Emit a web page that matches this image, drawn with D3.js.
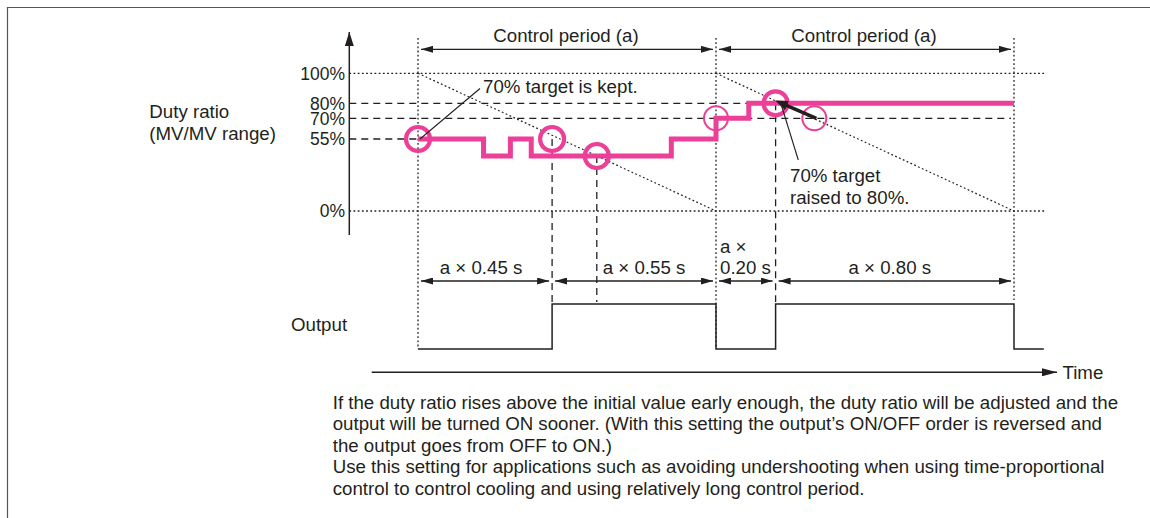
<!DOCTYPE html>
<html><head><meta charset="utf-8">
<script src="https://cdn.jsdelivr.net/npm/d3@7"></script>
<style>
body{margin:0;background:#fff}
svg{display:block}
text{font-family:"Liberation Sans",Arial,Helvetica,sans-serif;fill:#231f20}
</style>
</head><body>
<svg id="c" width="1150" height="518"></svg>
<script>
// ---- data ----
const dutyTicks = [100, 80, 70, 55, 0];
const dutyTickLabels = ["100%", "80%", "70%", "55%", "0%"];
const dutyTimes = [0, 0.22, 0.31, 0.38, 0.85, 1.0, 1.11, 2.0];
const dutyValues = [55, 42, 55, 42, 55, 70, 80, 80];
const outputTimes = [0, 0.45, 1.0, 1.2, 2.0, 2.1];
const outputValues = [0, 1, 0, 1, 0, 0];
const periods = [[0, 1], [1, 2]];
const periodLabel = "Control period (a)";
const intervals = [[0, 0.45], [0.45, 1], [1, 1.2], [1.2, 2]];
const intervalLabels = [["a \u00d7 0.45 s"], ["a \u00d7 0.55 s"], ["a \u00d7", "0.20 s"], ["a \u00d7 0.80 s"]];
const thickCircleTimes = [0, 0.45, 0.6, 1.2];
const thickCircleValues = [55, 55, 42, 80];
const thinCircleTimes = [1.0, 1.33];
const thinCircleValues = [70, 70];
const paragraph = [
  "If the duty ratio rises above the initial value early enough, the duty ratio will be adjusted and the",
  "output will be turned ON sooner. (With this setting the output\u2019s ON/OFF order is reversed and",
  "the output goes from OFF to ON.)",
  "Use this setting for applications such as avoiding undershooting when using time-proportional",
  "control to control cooling and using relatively long control period."
];

// ---- layout ----
const svg = d3.select("#c");
const INK = "#231f20", PINK = "#ec3f97";
const FS = "18.7px";
const x = d3.scaleLinear().domain([0, 2]).range([418, 1014]);
const y = d3.scaleLinear().domain([0, 55, 70, 80, 100]).range([211, 139, 118.3, 103.3, 73.3]);
const yo = d3.scaleLinear().domain([0, 1]).range([349, 304]);
const tMax = 2.105;
const DOT = "1.8,2.4", DASH = "7,5";

// frame
svg.append("path").attr("d", "M7.5,518V7.5H1150").attr("fill", "none").attr("stroke", "#555").attr("stroke-width", 1.2);

// markers
const defs = svg.append("defs");
function marker(id, len, wid, refX) {
  defs.append("marker").attr("id", id).attr("viewBox", `0 0 ${len} ${wid}`)
    .attr("refX", refX).attr("refY", wid / 2).attr("markerWidth", len).attr("markerHeight", wid)
    .attr("markerUnits", "userSpaceOnUse").attr("orient", "auto-start-reverse")
    .append("path").attr("d", `M0,0L${len},${wid / 2}L0,${wid}Z`).attr("fill", INK);
}
marker("dim", 12, 7, 12);
marker("ax", 14, 9, 14);
marker("tx", 15, 8, 15);
marker("thick", 13, 10, 7);

const g = svg.append("g");

// horizontal reference lines
const yAxisX = 349.3;
[100, 0].forEach(v => g.append("line").attr("x1", yAxisX).attr("x2", x(tMax)).attr("y1", y(v)).attr("y2", y(v))
  .attr("stroke", INK).attr("stroke-width", 1.3).attr("stroke-dasharray", DOT));
g.append("line").attr("x1", yAxisX).attr("x2", x(1.11)).attr("y1", y(80)).attr("y2", y(80))
  .attr("stroke", INK).attr("stroke-width", 1.3).attr("stroke-dasharray", DASH);
g.append("line").attr("x1", yAxisX).attr("x2", x(2) - 3).attr("y1", y(70)).attr("y2", y(70))
  .attr("stroke", INK).attr("stroke-width", 1.3).attr("stroke-dasharray", DASH);
g.append("line").attr("x1", yAxisX).attr("x2", x(0)).attr("y1", y(55)).attr("y2", y(55))
  .attr("stroke", INK).attr("stroke-width", 1.3).attr("stroke-dasharray", DASH);

// diagonal ramps
periods.forEach(p => g.append("line").attr("x1", x(p[0])).attr("y1", y(100)).attr("x2", x(p[1])).attr("y2", y(0))
  .attr("stroke", INK).attr("stroke-width", 1.2).attr("stroke-dasharray", DOT));

// vertical period lines (dotted)
[[0, yo(0)], [1, yo(0)], [2, yo(1) - 4]].forEach(d => g.append("line").attr("x1", x(d[0])).attr("x2", x(d[0]))
  .attr("y1", 38).attr("y2", d[1]).attr("stroke", INK).attr("stroke-width", 1.3).attr("stroke-dasharray", DOT));

// vertical dashed lines from circles to output
[[0.45, 55], [0.6, 42], [1.2, 80]].forEach(d => g.append("line").attr("x1", x(d[0])).attr("x2", x(d[0]))
  .attr("y1", y(d[1])).attr("y2", yo(1) - 2).attr("stroke", INK).attr("stroke-width", 1.3).attr("stroke-dasharray", DASH));

// y axis
g.append("line").attr("x1", yAxisX).attr("x2", yAxisX).attr("y1", 235).attr("y2", 32)
  .attr("stroke", INK).attr("stroke-width", 1.5).attr("marker-end", "url(#ax)");
g.selectAll(".tick").data(dutyTicks).join("text").attr("x", 345).attr("y", d => y(d)).attr("dy", "0.36em")
  .attr("text-anchor", "end").style("font-size", "17.5px").text((d, i) => dutyTickLabels[i]);

// duty step line
const dutyData = dutyTimes.map((t, i) => [t, dutyValues[i]]);
g.append("path").attr("d", d3.line().x(d => x(d[0])).y(d => y(d[1])).curve(d3.curveStepAfter)(dutyData))
  .attr("fill", "none").attr("stroke", PINK).attr("stroke-width", 5);

// circles
thickCircleTimes.forEach((t, i) => g.append("circle").attr("cx", x(t)).attr("cy", y(thickCircleValues[i])).attr("r", 12)
  .attr("fill", "none").attr("stroke", PINK).attr("stroke-width", 4.2));
thinCircleTimes.forEach((t, i) => g.append("circle").attr("cx", x(t)).attr("cy", y(thinCircleValues[i])).attr("r", 12)
  .attr("fill", "none").attr("stroke", PINK).attr("stroke-width", 2));

// annotation: 70% target is kept.
g.append("line").attr("x1", x(0) + 2).attr("y1", y(55)).attr("x2", 480).attr("y2", 88.5).attr("stroke", INK).attr("stroke-width", 1.1);
g.append("text").attr("x", 483).attr("y", 93).style("font-size", FS).text("70% target is kept.");

// annotation: raised to 80%
g.append("line").attr("x1", x(1.33) + 2).attr("y1", y(70)).attr("x2", x(1.2) + 5).attr("y2", y(80) - 0.5)
  .attr("stroke", INK).attr("stroke-width", 3.5).attr("marker-end", "url(#thick)");
g.append("line").attr("x1", 798.3).attr("y1", 160).attr("x2", 781).attr("y2", 104).attr("stroke", INK).attr("stroke-width", 1.1);
g.append("text").attr("x", 790).attr("y", 181.5).style("font-size", FS).text("70% target");
g.append("text").attr("x", 790).attr("y", 203.5).style("font-size", FS).text("raised to 80%.");

// control period dimension arrows
periods.forEach(p => {
  g.append("line").attr("x1", x(p[0]) + 3).attr("x2", x(p[1]) - 3).attr("y1", 49.3).attr("y2", 49.3)
    .attr("stroke", INK).attr("stroke-width", 1.3).attr("marker-start", "url(#dim)").attr("marker-end", "url(#dim)");
  g.append("text").attr("x", (x(p[0]) + x(p[1])) / 2 - 1).attr("y", 42).attr("text-anchor", "middle")
    .style("font-size", FS).text(periodLabel);
});

// interval dimension arrows
const labelShift = [-4, 10, 0, -5];
intervals.forEach((p, i) => {
  g.append("line").attr("x1", x(p[0]) + 3).attr("x2", x(p[1]) - 3).attr("y1", 281).attr("y2", 281)
    .attr("stroke", INK).attr("stroke-width", 1.3).attr("marker-start", "url(#dim)").attr("marker-end", "url(#dim)");
  const lines = intervalLabels[i];
  if (lines.length === 1) {
    g.append("text").attr("x", (x(p[0]) + x(p[1])) / 2 + labelShift[i]).attr("y", 273.5).attr("text-anchor", "middle")
      .style("font-size", FS).text(lines[0]);
  } else {
    lines.forEach((s, j) => g.append("text").attr("x", x(p[0]) + 4).attr("y", 273.5 - (lines.length - 1 - j) * 20.5)
      .style("font-size", FS).text(s));
  }
});

// output waveform
g.append("text").attr("x", 291).attr("y", 331).style("font-size", FS).text("Output");
const outData = outputTimes.map((t, i) => [t, outputValues[i]]);
g.append("path").attr("d", d3.line().x(d => x(d[0])).y(d => yo(d[1])).curve(d3.curveStepAfter)(outData))
  .attr("fill", "none").attr("stroke", INK).attr("stroke-width", 1.5);

// time axis
g.append("line").attr("x1", 371.7).attr("x2", 1057).attr("y1", 372.3).attr("y2", 372.3)
  .attr("stroke", INK).attr("stroke-width", 1.4).attr("marker-end", "url(#tx)");
g.append("text").attr("x", 1062.5).attr("y", 378.5).style("font-size", FS).text("Time");

// y label
g.append("text").attr("x", 149.3).attr("y", 118).style("font-size", FS).text("Duty ratio");
g.append("text").attr("x", 149.3).attr("y", 139.5).style("font-size", FS).text("(MV/MV range)");

// paragraph
g.selectAll(".para").data(paragraph).join("text").attr("x", 332.7).attr("y", (d, i) => 408.8 + i * 21.5)
  .style("font-size", FS).text(d => d);
</script>
</body></html>
